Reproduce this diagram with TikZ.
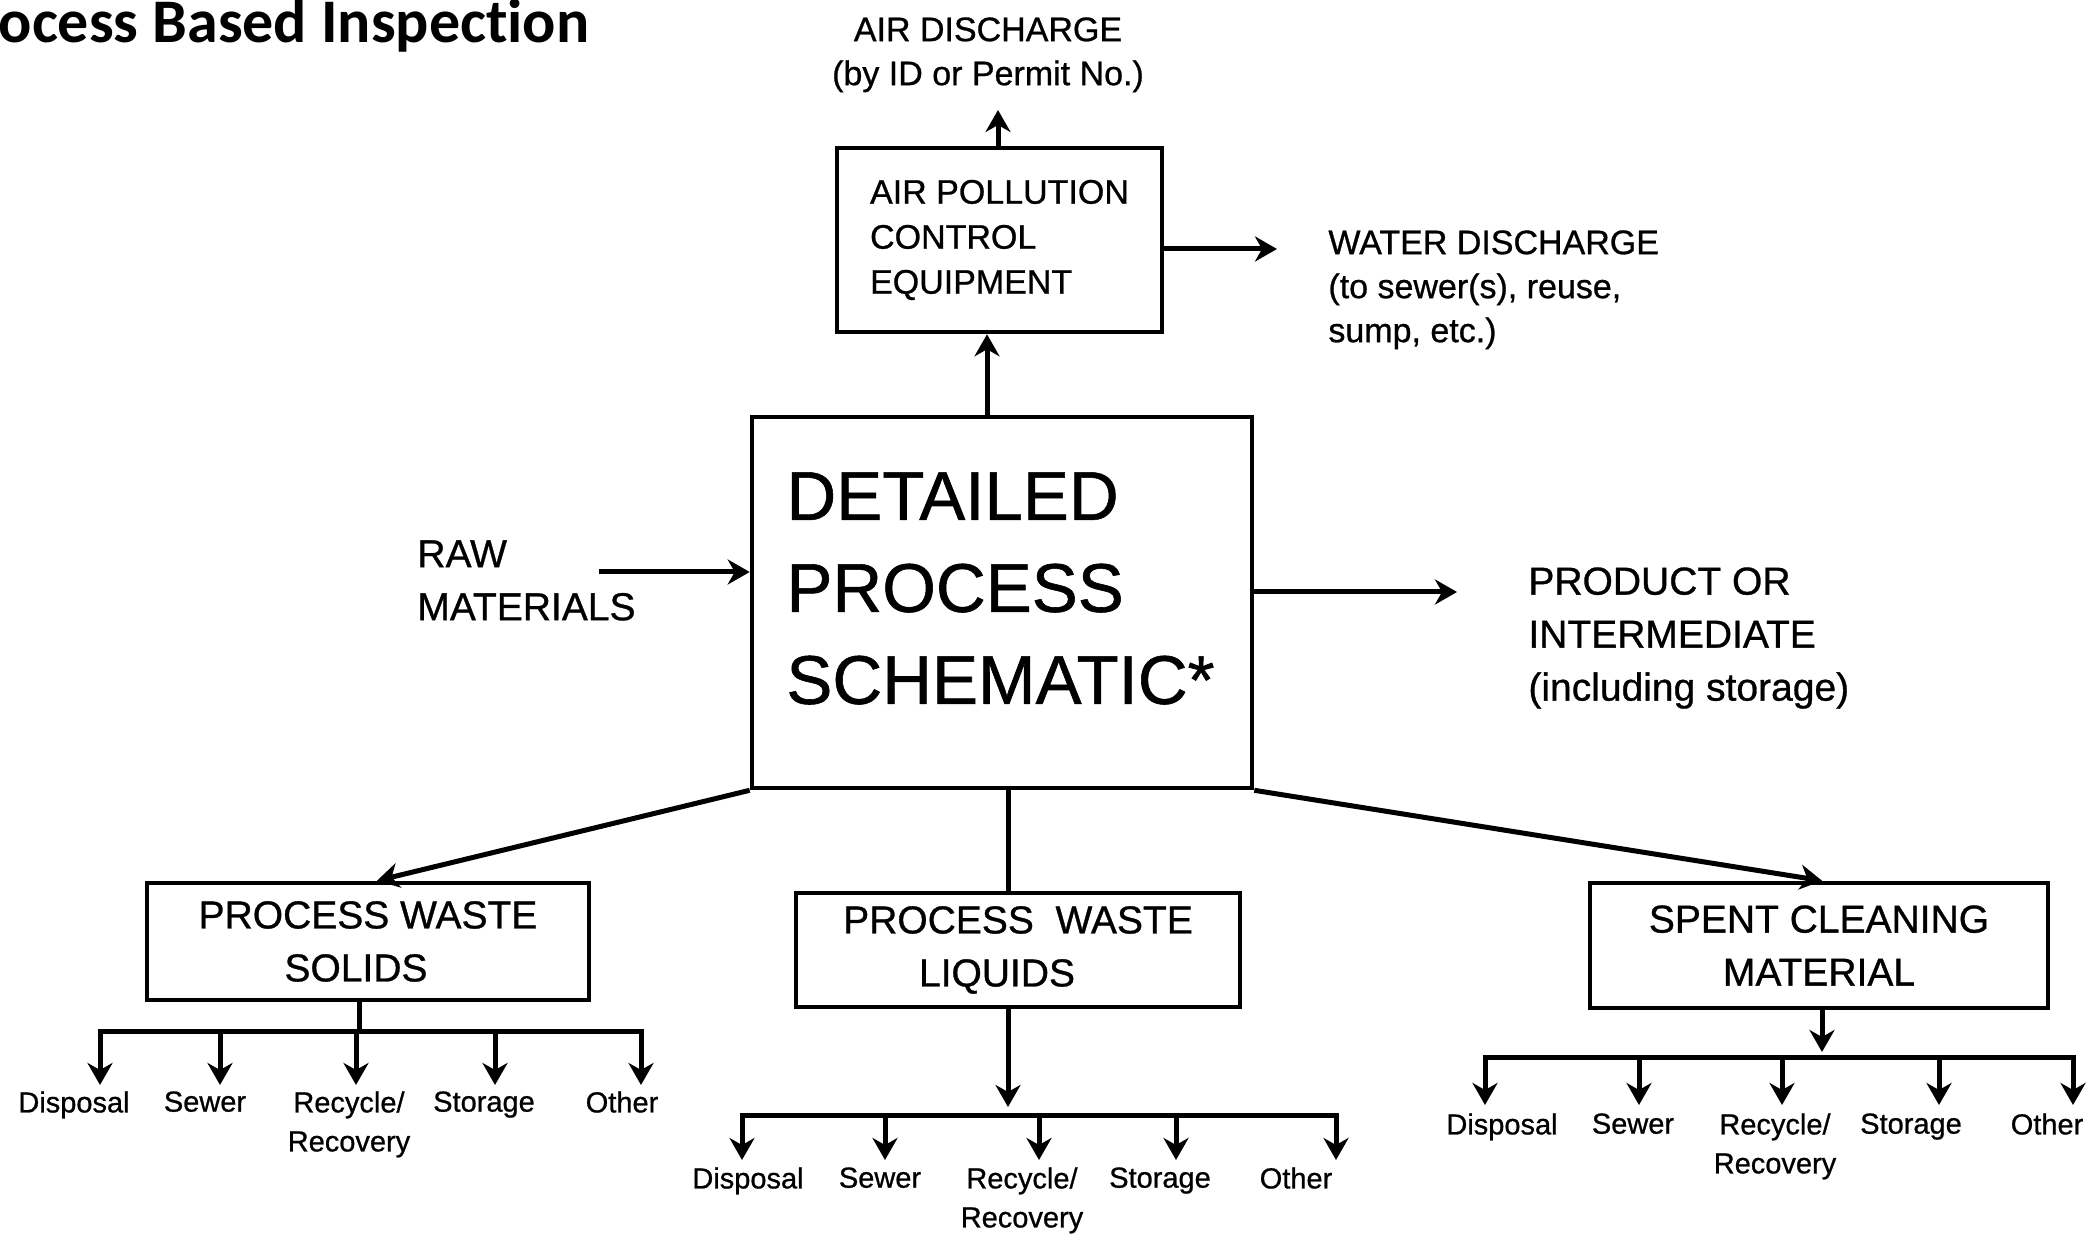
\documentclass[tikz,border=0pt]{standalone}
\usepackage{fontspec}
\setmainfont{Liberation Sans}[FakeBold=0.8]
\newfontfamily\titlefont{Carlito}[Ligatures=NoCommon]
\usetikzlibrary{arrows.meta,calc}
\newcommand\fntTop{\fontsize{17pt}{22pt}\selectfont}
\newcommand\fntAPC{\fontsize{17pt}{22.5pt}\selectfont}
\newcommand\fntMid{\fontsize{19.5pt}{26.5pt}\selectfont}
\newcommand\fntBig{\fontsize{34.5pt}{46pt}\selectfont}
\newcommand\fntLeaf{\fontsize{14.5pt}{19.5pt}\selectfont}
\begin{document}
\begin{tikzpicture}[x=0.5pt,y=-0.5pt,
  tip/.tip={Stealth[length=11pt,width=12.5pt,inset=3.5pt]},
  boxnode/.style={draw, line width=2.3pt, inner sep=0pt, align=center, font=\fntMid},
  arr/.style={line width=2.5pt, -tip},
  arrboth/.style={line width=2.5pt, tip-tip, line join=miter},
  ln/.style={line width=2.5pt},
  lbl/.style={inner sep=0pt, align=left},
  leaf/.style={inner sep=0pt, anchor=north, align=center, font=\fntLeaf}]
\useasboundingbox (0,0) rectangle (2098,1234);

% title
\node[anchor=base east, inner sep=0pt, font=\titlefont\bfseries\fontsize{31pt}{36pt}\selectfont] (title) at (590,43) {Process Based Inspection};

% top texts
\node[lbl, align=center, anchor=north, font=\fntTop] (airdis) at (988,17) {AIR DISCHARGE\\(by ID or Permit No.)};
\node[lbl, anchor=north west, font=\fntTop] (water) at (1328,230) {WATER DISCHARGE\\(to sewer(s), reuse,\\sump, etc.)};
\node[lbl, anchor=north west, font=\fntMid] (raw) at (417,540) {RAW\\MATERIALS};
\node[lbl, anchor=north west, font=\fntMid] (prod) at (1528,567) {PRODUCT OR\\INTERMEDIATE\\(including storage)};

% boxes
\node[boxnode, align=left, font=\fntAPC, minimum width=162.5pt, minimum height=92pt] (apc) at (999.5,240) {AIR POLLUTION\\CONTROL\\EQUIPMENT};
\node[draw, line width=2.3pt, inner sep=0pt, minimum width=250pt, minimum height=185.5pt] (main) at (1002,602.5) {};
\node[lbl, anchor=north west, font=\fntBig] (mainlbl) at (786,472) {DETAILED\\PROCESS\\SCHEMATIC*};
\node[boxnode, minimum width=221pt, minimum height=58.5pt] (pws) at (368,941.5) {PROCESS WASTE\\\mbox{SOLIDS\kern12pt}};
\node[boxnode, minimum width=222pt, minimum height=57pt] (pwl) at (1018,950) {PROCESS\ \ WASTE\\\mbox{LIQUIDS\kern21pt}};
\node[boxnode, minimum width=229pt, minimum height=62.5pt] (scm) at (1819,945.5) {SPENT CLEANING\\MATERIAL};

% upper connectors
\coordinate (airtip) at (998,110);
\draw[arr] (apc.north -| airtip) -- (airtip);
\coordinate (watertip) at (1277,249);
\draw[arr] (apc.east |- watertip) -- (watertip);
\coordinate (m2a) at ($(main.north)+(-15,0)$);
\draw[arr] (m2a) -- (m2a |- apc.south);
\coordinate (rawtail) at (599,572);
\draw[arr] (rawtail) -- (rawtail -| main.west);
\coordinate (prodtip) at (1457,592);
\draw[arr] (prodtip -| main.east) -- (prodtip);

% lower connectors
\draw[arr] (main.south west) -- ($(pws.north)+(9,0)$);
\coordinate (m2l) at ($(main.south)+(6,0)$);
\draw[ln] (m2l) -- (m2l |- pwl.north);
\draw[arr] (main.south east) -- ($(scm.north)+(3,0)$);

% PWS bus
\coordinate (busA) at (359,1031);
\foreach \i/\x in {1/100,2/220,3/356,4/495,5/641} \coordinate (tA\i) at (\x,1085);
\draw[ln] (busA |- pws.south) -- (busA);
\draw[arrboth] (tA1) -- (tA1 |- busA) -- (tA5 |- busA) -- (tA5);
\foreach \i in {2,3,4} \draw[arr] (tA\i |- busA) -- (tA\i);
\node[leaf] (a1) at (74,1091) {Disposal};
\node[leaf] (a2) at (205,1091) {Sewer};
\node[leaf] (a3) at (349,1091) {Recycle/\\Recovery};
\node[leaf] (a4) at (484,1091) {Storage};
\node[leaf] (a5) at (622,1091) {Other};

% PWL bus
\coordinate (busB) at (1008,1115);
\coordinate (stemB) at (1008,1107);
\foreach \i/\x in {1/742,2/885,3/1039,4/1176,5/1336} \coordinate (tB\i) at (\x,1160);
\draw[arr] (stemB |- pwl.south) -- (stemB);
\draw[arrboth] (tB1) -- (tB1 |- busB) -- (tB5 |- busB) -- (tB5);
\foreach \i in {2,3,4} \draw[arr] (tB\i |- busB) -- (tB\i);
\node[leaf] (b1) at (748,1167) {Disposal};
\node[leaf] (b2) at (880,1167) {Sewer};
\node[leaf] (b3) at (1022,1167) {Recycle/\\Recovery};
\node[leaf] (b4) at (1160,1167) {Storage};
\node[leaf] (b5) at (1296,1167) {Other};

% SCM bus
\coordinate (busC) at (1822,1057);
\coordinate (stemC) at (1822,1052);
\foreach \i/\x in {1/1485,2/1639,3/1782,4/1939,5/2073} \coordinate (tC\i) at (\x,1105);
\draw[arr] (stemC |- scm.south) -- (stemC);
\draw[arrboth] (tC1) -- (tC1 |- busC) -- (tC5 |- busC) -- (tC5);
\foreach \i in {2,3,4} \draw[arr] (tC\i |- busC) -- (tC\i);
\node[leaf] (c1) at (1502,1113) {Disposal};
\node[leaf] (c2) at (1633,1113) {Sewer};
\node[leaf] (c3) at (1775,1113) {Recycle/\\Recovery};
\node[leaf] (c4) at (1911,1113) {Storage};
\node[leaf] (c5) at (2047,1113) {Other};
\end{tikzpicture}
\end{document}
